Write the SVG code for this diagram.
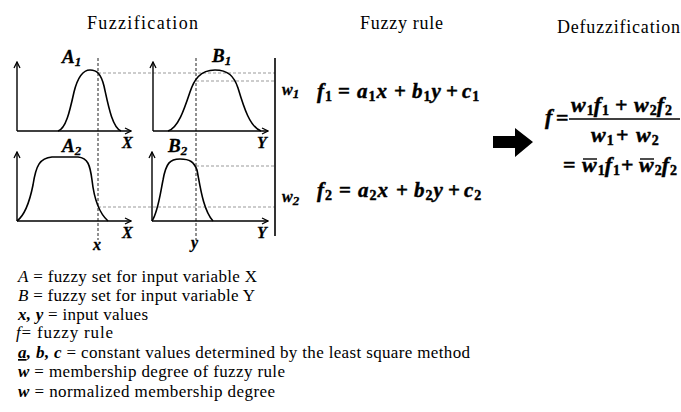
<svg xmlns="http://www.w3.org/2000/svg" width="681" height="412" viewBox="0 0 681 412">
<style>
  .title{font-family:"Liberation Serif",serif;font-size:18px;fill:#000}
  .ax{stroke:#000;stroke-width:1.4;fill:none}
  .curve{stroke:#000;stroke-width:1.6;fill:none}
  .vd{stroke:#222;stroke-width:1;stroke-dasharray:3 2;fill:none}
  .hd{stroke:#999;stroke-width:1;stroke-dasharray:3 2;fill:none}
  .lbl{font-family:"Liberation Serif",serif;font-style:italic;font-weight:bold;font-size:19px;fill:#000;stroke:#000;stroke-width:0.3}
  .axl{font-family:"Liberation Serif",serif;font-style:italic;font-weight:bold;font-size:16px;fill:#000;stroke:#000;stroke-width:0.3}
  .sub{font-size:13px}
  .eq{font-family:"Liberation Serif",serif;font-style:italic;font-weight:bold;font-size:21px;fill:#000;stroke:#000;stroke-width:0.45}
  .dq{font-size:22px}
  .op{font-style:normal}
  .es{font-size:14px;font-style:normal}
  .leg{font-family:"Liberation Serif",serif;font-size:17px;fill:#000}
  .bi{font-style:italic;font-weight:bold}
  .bar{stroke:#000;stroke-width:1.4}
</style>
<defs>
  <marker id="arr" markerWidth="8" markerHeight="8" refX="7" refY="4" orient="auto" markerUnits="userSpaceOnUse">
    <path d="M1,1 L7,4 L1,7" fill="none" stroke="#000" stroke-width="1.3"/>
  </marker>
</defs>

<g id="titles">
  <text class="title" x="87" y="29" textLength="111">Fuzzification</text>
  <text class="title" x="360" y="29" textLength="83">Fuzzy rule</text>
  <text class="title" x="557" y="33" textLength="123">Defuzzification</text>
</g>

<g id="connectors">
  <line class="vd" x1="98" y1="58" x2="98" y2="240"/>
  <line class="vd" x1="196" y1="58" x2="196" y2="240"/>
  <line class="hd" x1="98" y1="73" x2="275" y2="73"/>
  <line class="hd" x1="196" y1="81" x2="275" y2="81"/>
  <line class="hd" x1="196" y1="166" x2="275" y2="166"/>
  <line class="hd" x1="98" y1="207" x2="275" y2="207"/>
  <line x1="275" y1="58" x2="275" y2="236" stroke="#000" stroke-width="1.6"/>
</g>

<g id="A1">
  <line class="ax" x1="17" y1="131" x2="17" y2="62" marker-end="url(#arr)"/>
  <line class="ax" x1="17" y1="131" x2="131" y2="131" marker-end="url(#arr)"/>
  <path class="curve" d="M58,131 C66,129 70,110 74,92 C78,76 83,70 90,70 C97,70 101,74 104,86 C108,104 112,127 121,131"/>
  <text class="lbl" x="62" y="63">A<tspan class="sub" dy="3">1</tspan></text>
  <text class="axl" x="122" y="148">X</text>
</g>

<g id="B1">
  <line class="ax" x1="153" y1="131" x2="153" y2="62" marker-end="url(#arr)"/>
  <line class="ax" x1="153" y1="131" x2="268" y2="131" marker-end="url(#arr)"/>
  <path class="curve" d="M168,131 C178,128 184,110 190,92 C194,80 200,70 215,70 C228,70 234,76 238,88 C244,108 250,127 261,131"/>
  <text class="lbl" x="212" y="62">B<tspan class="sub" dy="3">1</tspan></text>
  <text class="axl" x="257" y="148">Y</text>
</g>

<g id="A2">
  <line class="ax" x1="17" y1="221" x2="17" y2="152" marker-end="url(#arr)"/>
  <line class="ax" x1="17" y1="221" x2="131" y2="221" marker-end="url(#arr)"/>
  <path class="curve" d="M17,221 C25,215 30,200 33,185 C36,165 40,158 52,157 L78,157 C88,158 90,165 92,180 C94,198 98,212 108,221"/>
  <text class="lbl" x="62" y="152">A<tspan class="sub" dy="3">2</tspan></text>
  <text class="axl" x="122" y="238">X</text>
  <text class="axl" x="93" y="250">x</text>
</g>

<g id="B2">
  <line class="ax" x1="152" y1="221" x2="152" y2="152" marker-end="url(#arr)"/>
  <line class="ax" x1="152" y1="221" x2="268" y2="221" marker-end="url(#arr)"/>
  <path class="curve" d="M152,221 C158,212 160,195 163,180 C166,163 170,159 180,159 C190,159 194,162 197,170 C200,185 203,210 213,221"/>
  <text class="lbl" x="168" y="152">B<tspan class="sub" dy="3">2</tspan></text>
  <text class="axl" x="257" y="238">Y</text>
  <text class="axl" x="191" y="248">y</text>
</g>

<g id="rule1">
  <text class="lbl" x="282" y="95" style="font-size:16px">w<tspan class="sub" dy="3">1</tspan></text>
  <text class="eq" x="317" y="98">f<tspan class="es" dx="1" dy="3">1</tspan></text>
  <text class="eq op" x="338" y="98">=</text>
  <text class="eq" x="357" y="98">a<tspan class="es" dx="1" dy="3">1</tspan><tspan dx="1" dy="-3">x</tspan></text>
  <text class="eq op" x="394" y="98">+</text>
  <text class="eq" x="412" y="98">b<tspan class="es" dx="1" dy="3">1</tspan><tspan dx="1" dy="-3">y</tspan></text>
  <text class="eq op" x="446" y="98">+</text>
  <text class="eq" x="462" y="98">c<tspan class="es" dx="1" dy="3">1</tspan></text>
</g>

<g id="rule2">
  <text class="lbl" x="282" y="202" style="font-size:16px">w<tspan class="sub" dy="3">2</tspan></text>
  <text class="eq" x="317" y="197">f<tspan class="es" dx="1" dy="3">2</tspan></text>
  <text class="eq op" x="339" y="197">=</text>
  <text class="eq" x="358" y="197">a<tspan class="es" dx="1" dy="3">2</tspan><tspan dx="1" dy="-3">x</tspan></text>
  <text class="eq op" x="396" y="197">+</text>
  <text class="eq" x="414" y="197">b<tspan class="es" dx="1" dy="3">2</tspan><tspan dx="1" dy="-3">y</tspan></text>
  <text class="eq op" x="448" y="197">+</text>
  <text class="eq" x="464" y="197">c<tspan class="es" dx="1" dy="3">2</tspan></text>
</g>

<g id="arrow">
  <polygon points="493,136 515,136 515,128 533,142 515,157 515,148 493,148" fill="#000"/>
</g>

<g id="defuzz">
  <text class="eq dq" x="545" y="124">f</text>
  <text class="eq op dq" x="556" y="125">=</text>
  <line class="bar" x1="569" y1="119" x2="680" y2="119"/>
  <text class="eq dq" x="571" y="112">w<tspan class="es" dx="1" dy="3">1</tspan><tspan dy="-3">f</tspan><tspan class="es" dx="1" dy="3">1</tspan></text>
  <text class="eq op dq" x="615" y="112">+</text>
  <text class="eq dq" x="634" y="112">w<tspan class="es" dx="1" dy="3">2</tspan><tspan dy="-3">f</tspan><tspan class="es" dx="1" dy="3">2</tspan></text>
  <text class="eq dq" x="591" y="142">w<tspan class="es" dx="1" dy="3">1</tspan></text>
  <text class="eq op dq" x="616" y="142">+</text>
  <text class="eq dq" x="636" y="142">w<tspan class="es" dx="1" dy="3">2</tspan></text>
  <text class="eq op dq" x="563" y="172">=</text>
  <text class="eq dq" x="582" y="172">w<tspan class="es" dx="1" dy="3">1</tspan><tspan dy="-3">f</tspan><tspan class="es" dx="1" dy="3">1</tspan></text>
  <text class="eq op dq" x="621" y="172">+</text>
  <text class="eq dq" x="639" y="172">w<tspan class="es" dx="1" dy="3">2</tspan><tspan dy="-3">f</tspan><tspan class="es" dx="1" dy="3">2</tspan></text>
  <line class="bar" x1="583" y1="159" x2="597" y2="159"/>
  <line class="bar" x1="640" y1="159" x2="654" y2="159"/>
</g>

<g id="legend">
  <text class="leg" x="18" y="282" textLength="239"><tspan font-style="italic">A</tspan> = fuzzy set for input variable X</text>
  <text class="leg" x="18" y="301" textLength="237"><tspan font-style="italic">B</tspan> = fuzzy set for input variable Y</text>
  <text class="leg" x="18" y="320" textLength="130"><tspan class="bi">x, y</tspan> = input values</text>
  <text class="leg" x="16" y="338" textLength="97"><tspan font-style="italic">f</tspan>= fuzzy rule</text>
  <text class="leg" x="18" y="358" textLength="452"><tspan class="bi" text-decoration="underline">a</tspan><tspan class="bi">, b, c</tspan> = constant values determined by the least square method</text>
  <text class="leg" x="18" y="377" textLength="267"><tspan class="bi">w</tspan> = membership degree of fuzzy rule</text>
  <text class="leg" x="18" y="397" textLength="257"><tspan class="bi">w</tspan> = normalized membership degree</text>
</g>
</svg>
